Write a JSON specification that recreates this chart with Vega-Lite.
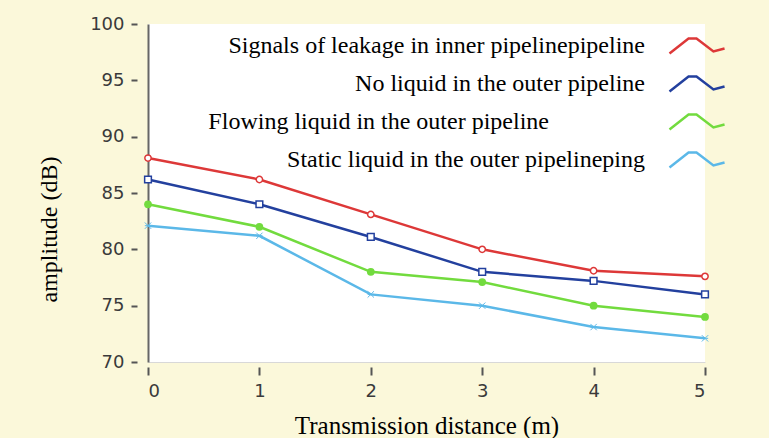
{
  "$schema": "https://vega.github.io/schema/vega-lite/v6.json",
  "width": 557,
  "height": 338,
  "autosize": {"type": "none"},
  "padding": {"left": 148, "top": 24, "right": 64, "bottom": 76},
  "background": "#FBF8DA",
  "config": {
    "view": {"fill": "white", "stroke": null},
    "font": "Liberation Serif"
  },
  "data": {
    "values": [
      {"series": "Signals of leakage in inner pipelinepipeline", "distance": 0, "amplitude": 88.1},
      {"series": "Signals of leakage in inner pipelinepipeline", "distance": 1, "amplitude": 86.2},
      {"series": "Signals of leakage in inner pipelinepipeline", "distance": 2, "amplitude": 83.1},
      {"series": "Signals of leakage in inner pipelinepipeline", "distance": 3, "amplitude": 80.0},
      {"series": "Signals of leakage in inner pipelinepipeline", "distance": 4, "amplitude": 78.1},
      {"series": "Signals of leakage in inner pipelinepipeline", "distance": 5, "amplitude": 77.6},
      {"series": "No liquid in the outer pipeline", "distance": 0, "amplitude": 86.2},
      {"series": "No liquid in the outer pipeline", "distance": 1, "amplitude": 84.0},
      {"series": "No liquid in the outer pipeline", "distance": 2, "amplitude": 81.1},
      {"series": "No liquid in the outer pipeline", "distance": 3, "amplitude": 78.0},
      {"series": "No liquid in the outer pipeline", "distance": 4, "amplitude": 77.2},
      {"series": "No liquid in the outer pipeline", "distance": 5, "amplitude": 76.0},
      {"series": "Flowing liquid in the outer pipeline", "distance": 0, "amplitude": 84.0},
      {"series": "Flowing liquid in the outer pipeline", "distance": 1, "amplitude": 82.0},
      {"series": "Flowing liquid in the outer pipeline", "distance": 2, "amplitude": 78.0},
      {"series": "Flowing liquid in the outer pipeline", "distance": 3, "amplitude": 77.1},
      {"series": "Flowing liquid in the outer pipeline", "distance": 4, "amplitude": 75.0},
      {"series": "Flowing liquid in the outer pipeline", "distance": 5, "amplitude": 74.0},
      {"series": "Static liquid in the outer pipelineping", "distance": 0, "amplitude": 82.1},
      {"series": "Static liquid in the outer pipelineping", "distance": 1, "amplitude": 81.2},
      {"series": "Static liquid in the outer pipelineping", "distance": 2, "amplitude": 76.0},
      {"series": "Static liquid in the outer pipelineping", "distance": 3, "amplitude": 75.0},
      {"series": "Static liquid in the outer pipelineping", "distance": 4, "amplitude": 73.1},
      {"series": "Static liquid in the outer pipelineping", "distance": 5, "amplitude": 72.1}
    ]
  },
  "encoding": {
    "x": {
      "field": "distance",
      "type": "quantitative",
      "scale": {"domain": [0, 5], "nice": false},
      "axis": {
        "title": "Transmission distance (m)",
        "titleFont": "Liberation Serif",
        "titleFontSize": 25,
        "titleFontWeight": "normal",
        "titleColor": "black",
        "titlePadding": 13,
        "values": [0, 1, 2, 3, 4, 5],
        "format": "d",
        "labelFont": "DejaVu Sans",
        "labelFontSize": 18,
        "labelColor": "#3a3a3a",
        "labelPadding": 7,
        "tickSize": 13,
        "tickDash": [0, 5, 8, 10],
        "tickColor": "#555",
        "tickWidth": 2,
        "domainColor": "#d8d8d8",
        "domainWidth": 1,
        "grid": false
      }
    },
    "y": {
      "field": "amplitude",
      "type": "quantitative",
      "scale": {"domain": [70, 100], "nice": false, "zero": false},
      "axis": {
        "title": "amplitude (dB)",
        "titleFont": "Liberation Serif",
        "titleFontSize": 24,
        "titleFontWeight": "normal",
        "titleColor": "black",
        "titlePadding": 28,
        "titleY": 205,
        "values": [70, 75, 80, 85, 90, 95, 100],
        "labelFont": "DejaVu Sans",
        "labelFontSize": 18,
        "labelColor": "#3a3a3a",
        "labelPadding": 7,
        "tickSize": 17,
        "tickDash": [0, 11, 6, 10],
        "tickColor": "#555",
        "tickWidth": 2,
        "domainColor": "#666",
        "domainWidth": 2,
        "grid": false
      }
    }
  },
  "layer": [
    {
      "mark": {"type": "line"},
      "encoding": {
        "color": {
          "field": "series",
          "type": "nominal",
          "sort": ["Signals of leakage in inner pipelinepipeline", "No liquid in the outer pipeline", "Flowing liquid in the outer pipeline", "Static liquid in the outer pipelineping"],
          "scale": {
            "domain": ["Signals of leakage in inner pipelinepipeline", "No liquid in the outer pipeline", "Flowing liquid in the outer pipeline", "Static liquid in the outer pipelineping"],
            "range": ["#DD3838", "#23409E", "#72DB3E", "#5BB8E8"]
          },
          "legend": {
            "orient": "none",
            "legendX": 532,
            "legendY": 5,
            "title": null,
            "padding": 0,
            "symbolType": "M-1.8,0.53L-0.53,-0.47L0,-0.47L1.13,0.4L1.87,0.2",
            "symbolSize": 900,
            "symbolStrokeWidth": 2,
            "symbolFillColor": "transparent",
            "labelAlign": "right",
            "labelBaseline": "middle",
            "labelOffset": -68,
            "labelFont": "Liberation Serif",
            "labelFontSize": 24,
            "labelColor": "black",
            "labelLimit": 0,
            "rowPadding": 8,
            "labelExpr": "datum.label == 'Flowing liquid in the outer pipeline' ? datum.label + '\u2003\u2003\u2003\u00a0\u2800' : datum.label"
          }
        },
        "strokeWidth": {
          "field": "series",
          "type": "nominal",
          "scale": {
            "domain": ["Signals of leakage in inner pipelinepipeline", "No liquid in the outer pipeline", "Flowing liquid in the outer pipeline", "Static liquid in the outer pipelineping"],
            "range": [2.5, 2.5, 1.5, 1.2]
          },
          "legend": null
        }
      }
    },
    {
      "transform": [{"filter": "datum.series == 'Signals of leakage in inner pipelinepipeline'"}],
      "mark": {"type": "point", "shape": "circle", "size": 40, "filled": false, "stroke": "#DD3838", "fill": "white", "strokeWidth": 1.5, "opacity": 1}
    },
    {
      "transform": [{"filter": "datum.series == 'No liquid in the outer pipeline'"}],
      "mark": {"type": "point", "shape": "square", "size": 45, "filled": false, "stroke": "#23409E", "fill": "white", "strokeWidth": 1.5, "opacity": 1}
    },
    {
      "transform": [{"filter": "datum.series == 'Flowing liquid in the outer pipeline'"}],
      "mark": {"type": "point", "shape": "circle", "size": 60, "filled": true, "color": "#72DB3E", "opacity": 1}
    },
    {
      "transform": [{"filter": "datum.series == 'Static liquid in the outer pipelineping'"}],
      "mark": {"type": "point", "shape": "M-1,-1L1,1M-1,1L1,-1M-1,0L1,0", "size": 40, "filled": false, "stroke": "#5BB8E8", "strokeWidth": 1, "opacity": 1}
    }
  ]
}
